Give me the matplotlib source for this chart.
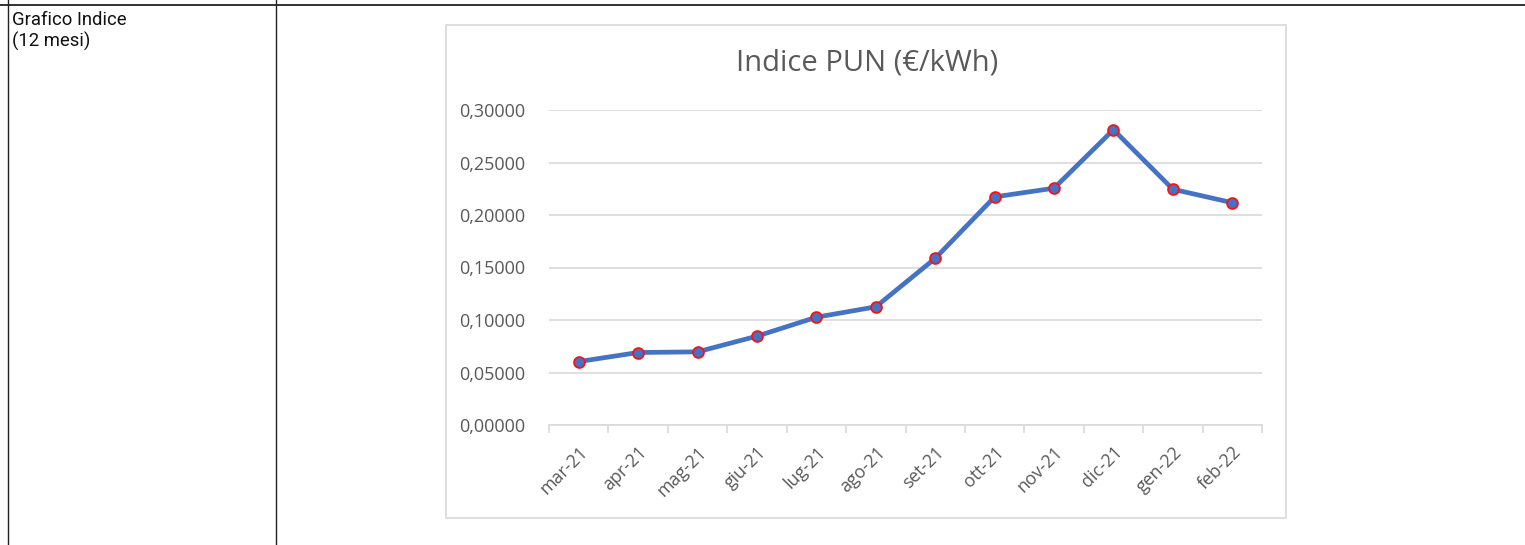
import matplotlib.pyplot as plt
from matplotlib.patches import Rectangle
from matplotlib.lines import Line2D

# PUN index, monthly (€/kWh)
months = ["mar-21", "apr-21", "mag-21", "giu-21", "lug-21", "ago-21",
          "set-21", "ott-21", "nov-21", "dic-21", "gen-22", "feb-22"]
pun = [0.06041, 0.06904, 0.06967, 0.08462, 0.10265, 0.11255,
       0.15871, 0.21723, 0.22554, 0.28122, 0.22452, 0.21173]
yticks = [0.0, 0.05, 0.10, 0.15, 0.20, 0.25, 0.30]

W, H = 1525, 545
fig = plt.figure(figsize=(W / 100, H / 100), dpi=100)
fig.patch.set_facecolor("white")

# table borders around the chart
fig.add_artist(Line2D([0, 1], [1 - 4.5 / H] * 2, color="#222222", lw=1.3))
for xp in (7.5, 275.5):
    fig.add_artist(Line2D([xp / W] * 2, [0, 1], color="#222222", lw=1.0))
fig.text(12 / W, 1 - 11 / H, "Grafico Indice\n(12 mesi)", ha="left", va="top",
         fontsize=13.3, family="Roboto", color="#111111", linespacing=1.2)

# chart frame (excel-like)
fig.add_artist(Rectangle((446 / W, 1 - 518 / H), 840 / W, 493 / H,
                         facecolor="white", edgecolor="#D9D9D9", lw=1.2, zorder=-5))

ax = fig.add_axes([549 / W, 1 - 425 / H, 713 / W, 315 / H])
ax.set_facecolor("none")
x = list(range(len(months)))
ax.plot(x, pun, color="#4472C4", lw=3.4, marker="o", markersize=7.8,
        markerfacecolor="#4472C4", markeredgecolor="#FF1010", markeredgewidth=1.3,
        solid_capstyle="round", zorder=3)

ax.set_xlim(-0.5, len(months) - 0.5)
ax.set_ylim(0, 0.30)
ax.set_yticks(yticks)
ax.set_yticklabels([f"{v:.5f}".replace(".", ",") for v in yticks])
ax.yaxis.grid(True, color="#D9D9D9", lw=1.2)
ax.set_axisbelow(True)

ax.set_xticks([i - 0.5 for i in range(len(months) + 1)])
ax.set_xticklabels([])
ax.set_xticks(x, minor=True)
ax.set_xticklabels(months, minor=True, rotation=45, ha="right",
                   rotation_mode="anchor", fontsize=12.8, family="Open Sans",
                   color="#595959")
ax.tick_params(axis="x", which="major", length=6, color="#D9D9D9", width=1.2)
ax.tick_params(axis="x", which="minor", length=0, pad=13)
ax.tick_params(axis="y", length=0, pad=17, labelsize=13, labelcolor="#595959")
for lab in ax.get_yticklabels():
    lab.set_family("Open Sans")

for side in ("top", "right", "left"):
    ax.spines[side].set_visible(False)
ax.spines["bottom"].set_color("#D9D9D9")
ax.spines["bottom"].set_linewidth(1.2)

fig.text(867 / W, 1 - 63 / H, "Indice PUN (€/kWh)", ha="center", va="center",
         fontsize=21, family="Open Sans", color="#595959")

fig.savefig("out.png", dpi=100)
